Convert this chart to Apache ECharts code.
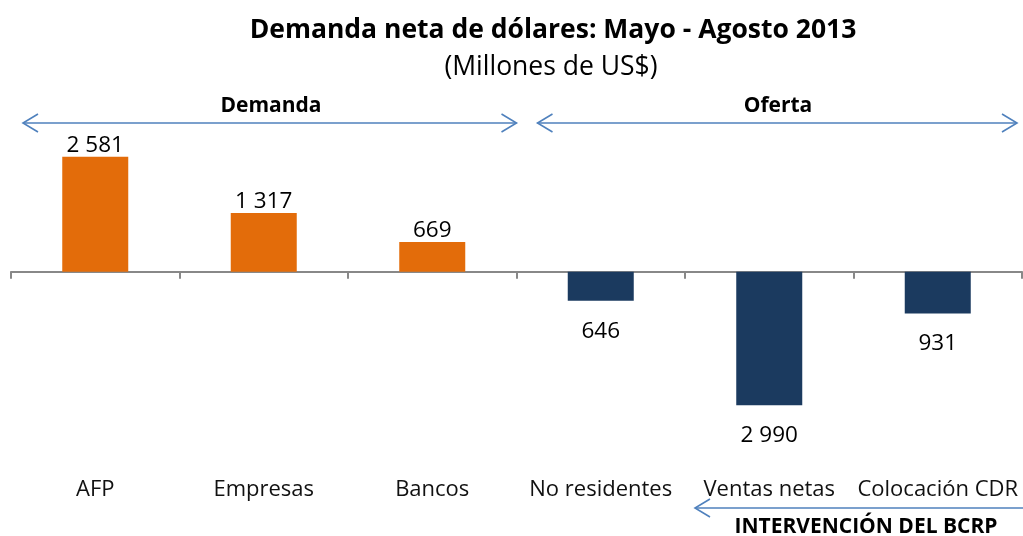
<!DOCTYPE html>
<html>
<head>
<meta charset="utf-8">
<script src="https://cdn.jsdelivr.net/npm/echarts@6/dist/echarts.min.js"></script>
<style>
  html, body { margin: 0; padding: 0; background: #fff; }
  #chart { width: 1023px; height: 536px; }
</style>
</head>
<body>
<div id="chart"></div>
<script>
// --- datos ---
const categories = ["AFP", "Empresas", "Bancos", "No residentes", "Ventas netas", "Colocación CDR"];
const demanda = [2581, 1317, 669, null, null, null];
const oferta = [null, null, null, -646, -2990, -931];

const FONT = "'Open Sans', sans-serif";
const ARROW = "#4f81bd";

function fmt(v) {
  const n = Math.abs(v);
  return n >= 1000 ? Math.floor(n / 1000) + " " + String(n % 1000).padStart(3, "0") : String(n);
}

const chart = echarts.init(document.getElementById("chart"));
chart.setOption({
  animation: false,
  title: [
    {
      text: "Demanda neta de dólares: Mayo - Agosto 2013",
      left: 548, top: 12, textAlign: "center",
      textStyle: { fontFamily: FONT, fontSize: 26.5, fontWeight: "bold", color: "#000" },
    },
    {
      text: "(Millones de US$)",
      left: 546, top: 49, textAlign: "center",
      textStyle: { fontFamily: FONT, fontSize: 26.5, fontWeight: "normal", color: "#000" },
    },
  ],
  grid: { left: 11, right: 1, top: 138, bottom: 108 },
  xAxis: [
    {
      type: "category",
      data: categories,
      axisLine: { onZero: true, lineStyle: { color: "#888", width: 2 } },
      axisTick: { show: true, length: 7, inside: false, lineStyle: { color: "#888", width: 2 } },
      axisLabel: { show: false },
    },
    {
      type: "category",
      data: categories,
      position: "bottom",
      offset: 43,
      axisLine: { show: false },
      axisTick: { show: false },
      axisLabel: { fontFamily: FONT, fontSize: 22, color: "#111", interval: 0 },
    },
  ],
  yAxis: {
    type: "value",
    min: -3500,
    max: 3000,
    show: false,
    splitLine: { show: false },
  },
  series: [
    {
      name: "Demanda",
      type: "bar",
      stack: "a",
      data: demanda,
      barWidth: 66,
      itemStyle: { color: "#e36c0a" },
      label: {
        show: true, position: "top", distance: 0,
        fontFamily: FONT, fontSize: 22.5, color: "#000",
        formatter: (p) => fmt(p.value),
      },
    },
    {
      name: "Oferta",
      type: "bar",
      stack: "a",
      data: oferta,
      barWidth: 66,
      itemStyle: { color: "#1b3a5f" },
      label: {
        show: true, position: "bottom", distance: 19,
        fontFamily: FONT, fontSize: 22.5, color: "#000",
        formatter: (p) => fmt(p.value),
      },
    },
  ],
});

// --- flechas de anotación ---
function arrow(x1, x2, y, label, labelX, labelY) {
  const h = 15, v = 9;
  const style = { stroke: ARROW, lineWidth: 1.6, fill: null };
  return [
    { type: "line", shape: { x1: x1, y1: y, x2: x2, y2: y }, style: style },
    { type: "polyline", shape: { points: [[x1 + h, y - v], [x1, y], [x1 + h, y + v]] }, style: style },
    { type: "polyline", shape: { points: [[x2 - h, y - v], [x2, y], [x2 - h, y + v]] }, style: style },
    {
      type: "text", x: labelX, y: labelY,
      style: {
        text: label, align: "center", verticalAlign: "middle",
        font: "bold 21px " + FONT, fill: "#000",
      },
    },
  ];
}

const c0 = chart.convertToPixel({ xAxisIndex: 0 }, 0);
const c1 = chart.convertToPixel({ xAxisIndex: 0 }, 1);
const band = c1 - c0;
const edge = (i) => c0 + (i - 0.5) * band;

chart.setOption({
  graphic: [].concat(
    arrow(edge(0) + 12, edge(3), 123, "Demanda", 271, 106),
    arrow(edge(3) + 21, edge(6) - 5, 123, "Oferta", 778, 106),
    arrow(edge(4) + 10, edge(6) + 20, 508, "INTERVENCIÓN DEL BCRP", 866, 527)
  ),
});

window.addEventListener("resize", function () {
  chart.resize();
});
</script>
</body>
</html>
